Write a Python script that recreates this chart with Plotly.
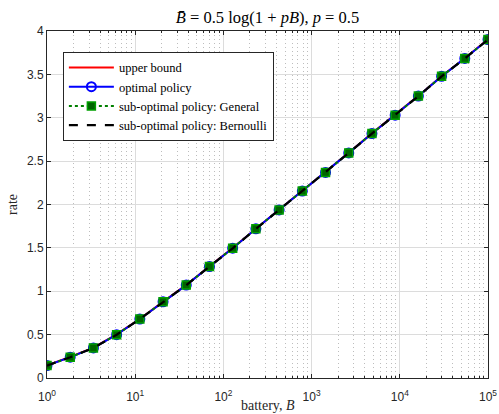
import numpy as np
import plotly.graph_objects as go

battery = np.logspace(0, 5, 20)
upper_bound = [0.146, 0.242, 0.349, 0.502, 0.682, 0.880, 1.073, 1.287, 1.498, 1.721,
               1.939, 2.157, 2.372, 2.597, 2.820, 3.032, 3.252, 3.479, 3.686, 3.904]
optimal = [0.144, 0.240, 0.347, 0.500, 0.680, 0.879, 1.071, 1.285, 1.496, 1.720,
           1.937, 2.155, 2.370, 2.595, 2.818, 3.030, 3.250, 3.477, 3.684, 3.902]
general = [0.144, 0.240, 0.347, 0.500, 0.680, 0.879, 1.071, 1.285, 1.496, 1.720,
           1.937, 2.155, 2.370, 2.595, 2.818, 3.030, 3.250, 3.477, 3.684, 3.902]
bernoulli = [0.143, 0.239, 0.346, 0.499, 0.679, 0.878, 1.070, 1.284, 1.495, 1.719,
             1.936, 2.154, 2.369, 2.594, 2.817, 3.029, 3.249, 3.476, 3.683, 3.901]
x_tickvals = [1, 10, 100, 1000, 10000, 100000]
x_ticktext = ["10<sup>0</sup>", "10<sup>1</sup>", "10<sup>2</sup>", "10<sup>3</sup>",
              "10<sup>4</sup>", "10<sup>5</sup>"]

SERIF = "Liberation Serif, DejaVu Serif, serif"
SANS = "Liberation Sans, Arial, sans-serif"

fig = go.Figure()
fig.add_trace(go.Scatter(x=battery, y=upper_bound, mode="lines", name="upper bound",
                         line=dict(color="#FF0000", width=2)))
fig.add_trace(go.Scatter(x=battery, y=optimal, mode="lines+markers", name="optimal policy",
                         line=dict(color="#0000FF", width=2),
                         marker=dict(symbol="circle-open", size=9, color="#0000FF",
                                     line=dict(width=2, color="#0000FF"))))
fig.add_trace(go.Scatter(x=battery, y=general, mode="lines+markers",
                         name="sub-optimal policy: General",
                         line=dict(color="#008000", width=2, dash="dot"),
                         marker=dict(symbol="square", size=8, color="#006400",
                                     line=dict(width=1.5, color="#00A000"))))
fig.add_trace(go.Scatter(x=battery, y=bernoulli, mode="lines",
                         name="sub-optimal policy: Bernoulli",
                         line=dict(color="#000000", width=2.2, dash="dash")))

axis_common = dict(showline=True, linecolor="#262626", linewidth=1, mirror="allticks",
                   ticks="inside", ticklen=4, tickcolor="#262626",
                   showgrid=True, gridcolor="#DCDCDC", gridwidth=1, automargin=False,
                   tickfont=dict(family=SANS, size=12, color="#262626"), zeroline=False)

fig.update_xaxes(type="log", range=[0, 5], tickvals=x_tickvals, ticktext=x_ticktext,
                 ticklabelstandoff=8,
                 minor=dict(ticks="inside", ticklen=2, tickcolor="#262626", dtick="D1",
                            showgrid=True, gridcolor="#BDBDBD", griddash="1px,3px", gridwidth=1),
                 **axis_common)
fig.update_yaxes(range=[0, 4], dtick=0.5,
                 title=dict(text="rate", font=dict(family=SERIF, size=14, color="#262626"),
                            standoff=6),
                 **axis_common)

fig.add_annotation(text="battery, <i>B</i>", xref="paper", yref="paper",
                   x=0.5, y=-0.08, xanchor="center", yanchor="middle", showarrow=False,
                   font=dict(family=SERIF, size=14, color="#262626"))

fig.update_layout(
    width=499, height=414,
    margin=dict(l=47, r=11, t=31, b=36),
    paper_bgcolor="white", plot_bgcolor="white",
    title=dict(text="<i>B̄</i> = 0.5 log(1 + <i>pB</i>), <i>p</i> = 0.5",
               xref="paper", x=0.5, xanchor="center", y=0.958, yanchor="middle",
               font=dict(family=SERIF, size=16.5, color="#000000")),
    legend=dict(x=0.036, y=0.94, xanchor="left", yanchor="top",
                bgcolor="white", bordercolor="#262626", borderwidth=1,
                font=dict(family=SERIF, size=12.5, color="#000000"),
                tracegroupgap=0, itemwidth=45),
    showlegend=True,
)

fig.write_html("out.html", config={"displayModeBar": False},
               post_script="document.body.style.margin='0px';document.body.style.padding='0px';")
